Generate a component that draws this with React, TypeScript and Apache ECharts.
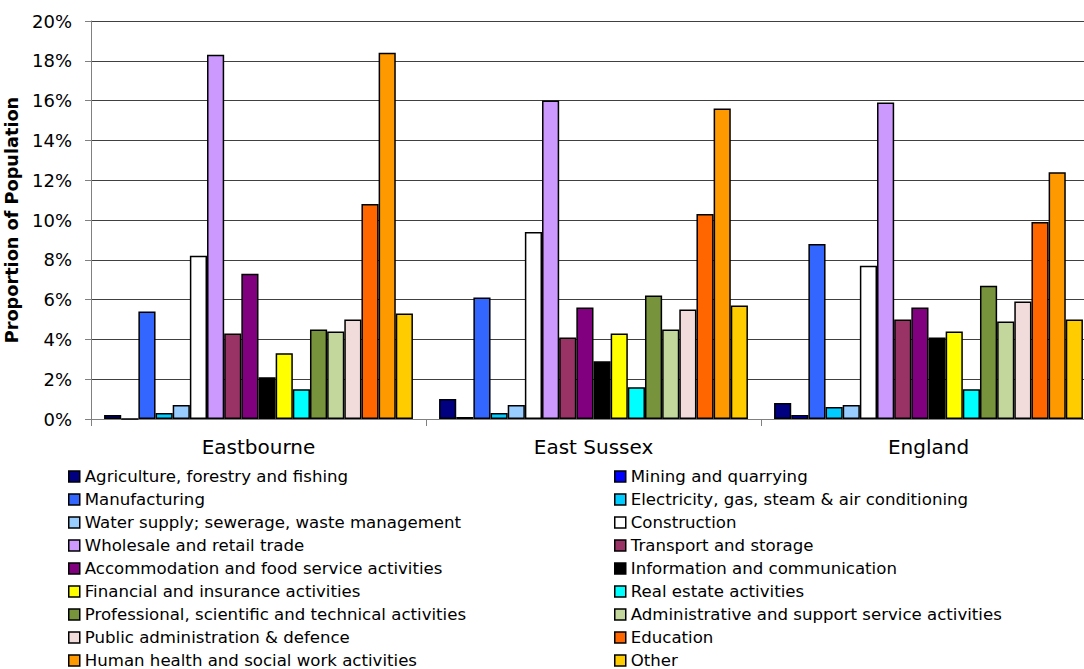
import React, { useEffect, useRef } from "react";
import * as echarts from "echarts";

// Areas compared along the x axis
const categories = ["Eastbourne", "East Sussex", "England"];

// Industry sectors, in legend / bar order
const sectors = [
  "Agriculture, forestry and fishing",
  "Mining and quarrying",
  "Manufacturing",
  "Electricity, gas, steam & air conditioning",
  "Water supply; sewerage, waste management",
  "Construction",
  "Wholesale and retail trade",
  "Transport and storage",
  "Accommodation and food service activities",
  "Information and communication",
  "Financial and insurance activities",
  "Real estate activities",
  "Professional, scientific and technical activities",
  "Administrative and support service activities",
  "Public administration & defence",
  "Education",
  "Human health and social work activities",
  "Other",
];

// Share of the working population (%) per sector, one array per area
const eastbourne = [0.2, 0, 5.4, 0.3, 0.7, 8.2, 18.3, 4.3, 7.3, 2.1, 3.3, 1.5, 4.5, 4.4, 5.0, 10.8, 18.4, 5.3];
const eastSussex = [1.0, 0.1, 6.1, 0.3, 0.7, 9.4, 16.0, 4.1, 5.6, 2.9, 4.3, 1.6, 6.2, 4.5, 5.5, 10.3, 15.6, 5.7];
const england = [0.8, 0.2, 8.8, 0.6, 0.7, 7.7, 15.9, 5.0, 5.6, 4.1, 4.4, 1.5, 6.7, 4.9, 5.9, 9.9, 12.4, 5.0];

// Y axis range and step (percent)
const yMax = 20;
const yStep = 2;

// Fill colour for each sector
const palette = [
  "#000080", "#0000FF", "#3366FF", "#00CCFF", "#99CCFF", "#FFFFFF",
  "#CC99FF", "#993366", "#800080", "#000000", "#FFFF00", "#00FFFF",
  "#77933C", "#C3D69B", "#F2DCDB", "#FF6600", "#FF9900", "#FFCC00",
];

const FONT = "'DejaVu Sans', sans-serif";

export default function App() {
  const ref = useRef<HTMLDivElement>(null);

  useEffect(() => {
    if (!ref.current) return;
    const chart = echarts.init(ref.current, null, { renderer: "svg" });

    const series = sectors.map((name, i) => ({
      name,
      type: "bar",
      data: [eastbourne[i], eastSussex[i], england[i]],
      barGap: "0%",
      barCategoryGap: "7.8%",
      itemStyle: { color: palette[i], borderColor: "#000", borderWidth: 1.5 },
    }));

    const legendCommon = {
      orient: "vertical",
      top: 468,
      height: 205,
      padding: 0,
      icon: "rect",
      itemWidth: 11,
      itemHeight: 11,
      itemGap: 6,
      selectedMode: false,
      itemStyle: { borderColor: "#000", borderWidth: 1.5 },
      textStyle: { fontFamily: FONT, fontSize: 16.6, lineHeight: 17, color: "#000" },
    };

    chart.setOption({
      animation: false,
      backgroundColor: "#fff",
      grid: {
        left: 91,
        top: 21,
        bottom: 250,
        right: -12,
        containLabel: false,
        outerBoundsMode: "none",
      },
      legend: [
        { ...legendCommon, left: 68, data: sectors.filter((_, i) => i % 2 === 0) },
        { ...legendCommon, left: 614, data: sectors.filter((_, i) => i % 2 === 1) },
      ],
      xAxis: {
        type: "category",
        data: categories,
        axisLine: { lineStyle: { color: "#808080", width: 1 } },
        axisTick: { show: true, length: 7, lineStyle: { color: "#808080" } },
        axisLabel: { fontFamily: FONT, fontSize: 20, color: "#000", margin: 18 },
      },
      yAxis: {
        type: "value",
        min: 0,
        max: yMax,
        interval: yStep,
        name: "Proportion of Population",
        nameLocation: "middle",
        nameGap: 62,
        nameTextStyle: {
          fontFamily: FONT,
          fontWeight: "bold",
          fontSize: 17.7,
          color: "#000",
        },
        axisLine: { show: true, lineStyle: { color: "#808080", width: 1 } },
        axisTick: { show: true, length: 6, lineStyle: { color: "#808080" } },
        axisLabel: {
          fontFamily: FONT,
          fontSize: 18,
          color: "#000",
          margin: 19,
          formatter: "{value}%",
        },
        splitLine: { show: true, lineStyle: { color: "#404040", width: 1 } },
      },
      series,
    });

    return () => chart.dispose();
  }, []);

  return (
    <div
      ref={ref}
      style={{ position: "fixed", left: 0, top: 0, width: 1084, height: 669 }}
    />
  );
}
